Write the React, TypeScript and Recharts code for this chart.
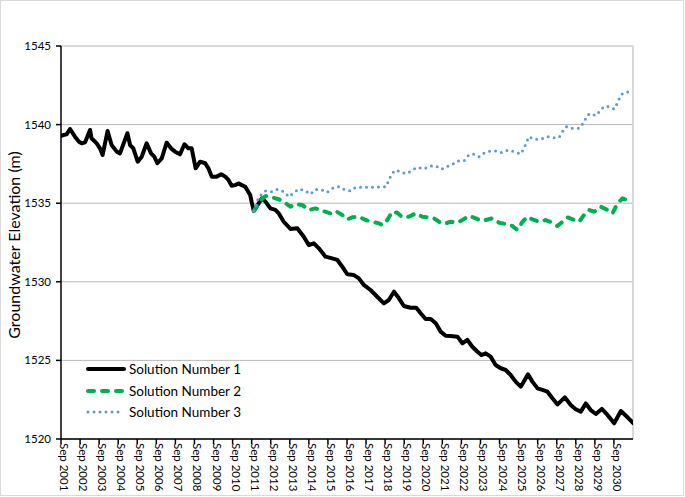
import { CartesianGrid, Line, LineChart, ReferenceLine, XAxis, YAxis } from "recharts";

const FONT = "Lato, 'Open Sans', sans-serif";

// x values are decimal years; Sep = year + 8/12
const xTickLabels = [
  "Sep 2001", "Sep 2002", "Sep 2003", "Sep 2004", "Sep 2005", "Sep 2006", "Sep 2007", "Sep 2008",
  "Sep 2009", "Sep 2010", "Sep 2011", "Sep 2012", "Sep 2013", "Sep 2014", "Sep 2015", "Sep 2016",
  "Sep 2017", "Sep 2018", "Sep 2019", "Sep 2020", "Sep 2021", "Sep 2022", "Sep 2023", "Sep 2024",
  "Sep 2025", "Sep 2026", "Sep 2027", "Sep 2028", "Sep 2029", "Sep 2030",
];
const yTicks = [1520, 1525, 1530, 1535, 1540, 1545];

const sol1Time = [
  2001.71, 2001.79, 2001.96, 2002.14, 2002.4, 2002.61, 2002.75, 2002.93, 2003.19, 2003.27, 2003.54,
  2003.71, 2003.85, 2004.11, 2004.32, 2004.59, 2004.76, 2005.15, 2005.29, 2005.46, 2005.69, 2005.9,
  2006.16, 2006.39, 2006.56, 2006.72, 2006.95, 2007.21, 2007.44, 2007.65, 2007.91, 2008.14, 2008.35,
  2008.52, 2008.73, 2008.96, 2009.23, 2009.4, 2009.57, 2009.83, 2010.07, 2010.28, 2010.45, 2010.62,
  2010.8, 2010.97, 2011.15, 2011.33, 2011.59, 2011.67, 2011.78,
  2012.2, 2012.39, 2012.65, 2012.91, 2013.09, 2013.35, 2013.7, 2014.06, 2014.4, 2014.66, 2014.93,
  2015.19, 2015.54, 2015.89, 2016.16, 2016.42, 2016.68, 2017.03, 2017.29, 2017.55, 2017.9, 2018.25,
  2018.6, 2018.86, 2019.13, 2019.39, 2019.65, 2020.0, 2020.3, 2020.53, 2020.79, 2021.06, 2021.32,
  2021.58, 2021.84, 2022.1, 2022.46, 2022.72, 2022.98, 2023.24, 2023.51, 2023.71, 2023.94, 2024.2,
  2024.46, 2024.73, 2024.99, 2025.25, 2025.51, 2025.78, 2026.16, 2026.39, 2026.66, 2026.92, 2027.18,
  2027.44, 2027.71, 2028.09, 2028.4, 2028.66, 2028.93, 2029.19, 2029.45, 2029.72, 2030.03, 2030.33,
  2030.68, 2031.03, 2031.38, 2031.69,
];
const sol1Level = [
  1539.3, 1539.34, 1539.38, 1539.72, 1539.23, 1538.91, 1538.81, 1538.87, 1539.66, 1539.13, 1538.81,
  1538.49, 1538.07, 1539.59, 1538.7, 1538.28, 1538.17, 1539.45, 1538.7, 1538.49, 1537.64, 1537.96,
  1538.81, 1538.17, 1537.96, 1537.54, 1537.85, 1538.85, 1538.49, 1538.28, 1538.11, 1538.75, 1538.49,
  1538.49, 1537.22, 1537.64, 1537.54, 1537.22, 1536.69, 1536.69, 1536.84, 1536.69, 1536.48, 1536.11,
  1536.15, 1536.26, 1536.15, 1536.05, 1535.52, 1535.06, 1534.5,
  1535.31, 1535.1, 1534.67, 1534.57, 1534.35, 1533.82, 1533.36, 1533.4, 1532.87, 1532.34, 1532.45,
  1532.13, 1531.6, 1531.49, 1531.39, 1530.96, 1530.48, 1530.43, 1530.22, 1529.8, 1529.48, 1529.05,
  1528.63, 1528.84, 1529.37, 1528.95, 1528.46, 1528.35, 1528.35, 1528.0, 1527.63, 1527.63, 1527.36,
  1526.83, 1526.57, 1526.55, 1526.51, 1526.08, 1526.3, 1525.87, 1525.55, 1525.34, 1525.45, 1525.24,
  1524.71, 1524.5, 1524.39, 1524.07, 1523.65, 1523.33, 1524.11, 1523.65, 1523.22, 1523.12, 1523.01,
  1522.59, 1522.2, 1522.65, 1522.16, 1521.89, 1521.74, 1522.26, 1521.84, 1521.59, 1521.91, 1521.53,
  1521.0, 1521.78, 1521.38, 1521.0,
];

const sol2Time = [
  2011.78, 2012.13, 2012.4, 2012.74, 2013.09, 2013.44, 2013.7, 2013.97, 2014.32, 2014.66, 2015.02,
  2015.37, 2015.8, 2016.07, 2016.42, 2016.68, 2016.94, 2017.29, 2017.64, 2017.99, 2018.34, 2018.52,
  2018.78, 2019.04, 2019.31, 2019.57, 2019.91, 2020.27, 2020.62, 2020.96, 2021.23, 2021.49, 2021.75,
  2022.1, 2022.45, 2022.72, 2023.06, 2023.42, 2023.68, 2023.94, 2024.29, 2024.64, 2024.99, 2025.34,
  2025.6, 2025.87, 2026.13, 2026.39, 2026.74, 2027.09, 2027.44, 2027.7, 2027.97, 2028.23, 2028.58,
  2028.84, 2029.1, 2029.36, 2029.63, 2029.98, 2030.33, 2030.59, 2030.85, 2031.12, 2031.46,
];
const sol2Level = [
  1534.5, 1535.2, 1535.46, 1535.37, 1535.25, 1535.0, 1534.78, 1534.95, 1534.89, 1534.57, 1534.67,
  1534.52, 1534.35, 1534.5, 1534.25, 1533.97, 1534.1, 1534.14, 1533.93, 1533.82, 1533.72, 1533.61,
  1533.93, 1534.46, 1534.39, 1534.1, 1534.14, 1534.35, 1534.14, 1534.1, 1534.04, 1533.82, 1533.68,
  1533.82, 1533.76, 1533.93, 1534.19, 1534.04, 1533.89, 1533.93, 1534.04, 1533.76, 1533.68, 1533.55,
  1533.3, 1533.82, 1534.14, 1533.97, 1533.82, 1533.93, 1533.76, 1533.55, 1533.82, 1534.1, 1533.93,
  1533.82, 1534.25, 1534.57, 1534.46, 1534.78, 1534.57, 1534.35, 1534.99, 1535.31, 1535.16,
];

const sol3Time = [
  2011.78, 2012.04, 2012.4, 2012.74, 2013.01, 2013.35, 2013.61, 2013.88, 2014.14, 2014.49, 2014.75,
  2015.02, 2015.37, 2015.63, 2015.92, 2016.24, 2016.5, 2016.85, 2017.12, 2017.38, 2017.73, 2018.08,
  2018.43, 2018.73, 2018.86, 2019.04, 2019.22, 2019.57, 2019.83, 2020.09, 2020.35, 2020.7, 2021.05,
  2021.32, 2021.63, 2021.93, 2022.19, 2022.51, 2022.8, 2023.06, 2023.29, 2023.59, 2023.89, 2024.17,
  2024.47, 2024.78, 2025.11, 2025.42, 2025.78, 2025.95, 2026.21, 2026.48, 2026.83, 2027.18, 2027.52,
  2027.79, 2027.97, 2028.18, 2028.49, 2028.84, 2029.05, 2029.28, 2029.45, 2029.72, 2029.98, 2030.15,
  2030.41, 2030.68, 2030.85, 2031.03, 2031.2, 2031.46,
];
const sol3Level = [
  1534.5, 1535.41, 1535.78, 1535.73, 1535.88, 1535.73, 1535.41, 1535.67, 1535.9, 1535.78, 1535.57,
  1535.88, 1535.84, 1535.69, 1535.95, 1536.05, 1535.88, 1535.78, 1536.01, 1536.01, 1536.01, 1536.01,
  1536.05, 1536.05, 1536.48, 1536.9, 1537.11, 1536.94, 1536.9, 1537.11, 1537.28, 1537.18, 1537.37,
  1537.37, 1537.16, 1537.33, 1537.48, 1537.69, 1537.69, 1538.07, 1538.13, 1537.96, 1538.22, 1538.32,
  1538.32, 1538.22, 1538.38, 1538.28, 1538.13, 1538.49, 1539.23, 1539.07, 1539.07, 1539.23, 1539.17,
  1539.19, 1539.55, 1539.87, 1539.76, 1539.76, 1540.08, 1540.61, 1540.71, 1540.57, 1540.93, 1541.15,
  1541.15, 1540.99, 1541.39, 1541.88, 1542.03, 1542.09,
];

const X_START = 2001 + 8 / 12;
const xTicks = xTickLabels.map((_, i) => X_START + i);

const toRows = (time: number[], level: number[]) => time.map((t, i) => ({ t, level: level[i] }));

const series = [
  { name: "Solution Number 1", data: toRows(sol1Time, sol1Level), color: "#000000", width: 4, dash: undefined as string | undefined },
  { name: "Solution Number 2", data: toRows(sol2Time, sol2Level), color: "#00B050", width: 4, dash: "6 8" },
  { name: "Solution Number 3", data: toRows(sol3Time, sol3Level), color: "#5B9BD5", width: 3, dash: "0 6" },
];

function SepTick(props: any) {
  const { x, y, payload } = props;
  const label = xTickLabels[Math.round(payload.value - X_START)] ?? "";
  return (
    <g transform={`translate(${x},${y})`}>
      <text transform="rotate(90)" x={-1} y={1} textAnchor="start" fontSize={11.5} fontFamily={FONT} fill="#000">
        {label}
      </text>
    </g>
  );
}

// legend sits inside the plot, bottom left, like the Excel original
function LegendBox() {
  return (
    <div style={{ position: "absolute", left: 85, top: 357, fontFamily: FONT, fontSize: 13.5, color: "#000" }}>
      {series.map((s) => (
        <div key={s.name} style={{ display: "flex", alignItems: "center", height: 21.7 }}>
          <svg width={43} height={10}>
            <line x1={2} y1={5} x2={38} y2={5} stroke={s.color} strokeWidth={s.width} strokeDasharray={s.dash} strokeLinecap="round" />
          </svg>
          <span>{s.name}</span>
        </div>
      ))}
    </div>
  );
}

export default function App() {
  return (
    <div style={{ width: 684, height: 496, border: "1px solid #d9d9d9", boxSizing: "border-box", background: "#fff", position: "relative" }}>
      <style>{"body{margin:0}"}</style>
      <LineChart width={682} height={494} margin={{ top: 45, right: 50, bottom: 0, left: 0 }}>
        <CartesianGrid vertical={false} stroke="#b9b9b9" strokeWidth={1} />
        <XAxis
          type="number"
          dataKey="t"
          domain={[X_START, X_START + 30]}
          ticks={xTicks}
          interval={0}
          allowDataOverflow
          height={56}
          tick={<SepTick />}
          tickSize={5}
          tickMargin={0}
          stroke="#000"
          strokeWidth={1.5}
        />
        <YAxis
          type="number"
          domain={[1520, 1545]}
          ticks={yTicks}
          interval={0}
          width={60}
          tickSize={5}
          tickMargin={5}
          stroke="#000"
          strokeWidth={1.5}
          tick={{ fontSize: 11.5, fontFamily: FONT, fill: "#000" }}
          label={() => (
            <text x={12} y={244} transform="rotate(-90, 12, 244)" textAnchor="middle" dominantBaseline="central" fontSize={16} fontFamily={FONT} fill="#000">
              Groundwater Elevation (m)
            </text>
          )}
        />
        <ReferenceLine x={X_START + 30} stroke="#d9d9d9" strokeWidth={2} ifOverflow="extendDomain" />
        {series.map((s) => (
          <Line
            key={s.name}
            data={s.data}
            dataKey="level"
            name={s.name}
            type="linear"
            stroke={s.color}
            strokeWidth={s.width}
            strokeDasharray={s.dash}
            strokeLinecap="round"
            strokeLinejoin="round"
            dot={false}
            activeDot={false}
            isAnimationActive={false}
          />
        ))}
      </LineChart>
      <LegendBox />
    </div>
  );
}
